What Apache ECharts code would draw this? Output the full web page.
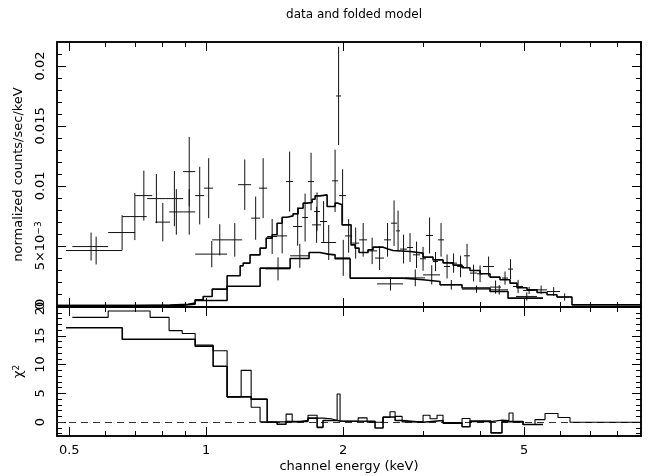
<!DOCTYPE html>
<html><head><meta charset="utf-8">
<script src="https://cdn.jsdelivr.net/npm/echarts@6/dist/echarts.min.js"></script>
<style>html,body{margin:0;padding:0;background:#fff}#c{width:652px;height:476px}</style>
</head><body><div id="c"></div>
<script>
// ---- axis ticks ----
const X_MIN = 0.47, X_MAX = 9.04;
const xTickMajor = [0.5, 1, 2, 5];
const xTickMinor = [0.6, 0.7, 0.8, 0.9, 3, 4, 6, 7, 8, 9];
const yTopMajor = [0, 0.005, 0.01, 0.015, 0.02];
const yTopMinor = [0.001,0.002,0.003,0.004,0.006,0.007,0.008,0.009,0.011,0.012,0.013,0.014,0.016,0.017,0.018,0.019,0.021];
const yBotMajor = [0, 5, 10, 15, 20];
const yBotMinor = [-2,-1,1,2,3,4,6,7,8,9,11,12,13,14,16,17,18,19];

// ---- data points: [E_lo, E_hi, rate, error] ----
const data1 = [
 [0.508,0.609,0.00494,0.00117],[0.609,0.698,0.00611,0.00145],[0.698,0.761,0.00919,0.00208],
 [0.773,0.833,0.00698,0.0016],[0.830,0.890,0.00783,0.0019],[0.890,0.946,0.01119,0.0029],
 [0.946,0.990,0.00919,0.0024],[0.990,1.036,0.00981,0.0025],[1.031,1.112,0.0055,0.0013],
 [1.112,1.200,0.0055,0.0014],[1.176,1.256,0.0101,0.0021],[1.256,1.314,0.00731,0.0018],
 [1.307,1.362,0.00981,0.0025],[1.362,1.432,0.00578,0.00146],[1.432,1.507,0.00583,0.00146],
 [1.499,1.553,0.01036,0.0025],[1.553,1.626,0.00661,0.0016],[1.626,1.675,0.00736,0.002],
 [1.675,1.727,0.01036,0.0024],[1.727,1.780,0.00786,0.0016],[1.780,1.845,0.00703,0.0017],
 [1.892,1.950,0.01042,0.0026],[1.931,1.980,0.0175,0.0041],[1.960,2.031,0.00919,0.0022],
 [2.021,2.094,0.00583,0.0014],[2.094,2.170,0.00523,0.0013],[2.170,2.259,0.0055,0.0014],
 [2.259,2.376,0.00458,0.0011],[2.461,2.550,0.0055,0.0014],[2.550,2.629,0.00689,0.0019],
 [2.616,2.669,0.00625,0.0017],[2.669,2.765,0.00473,0.0012],[2.765,2.850,0.00486,0.0012],
 [2.850,2.953,0.00425,0.0011],[2.953,3.045,0.00392,0.001],[3.045,3.154,0.00586,0.0015],
 [3.154,3.235,0.00369,0.0008],[3.235,3.335,0.0055,0.0014],[3.335,3.438,0.00328,0.001],
 [3.438,3.562,0.00356,0.0008],[3.562,3.690,0.00328,0.0009],[3.690,3.804,0.00417,0.001],
 [3.804,3.942,0.00273,0.0007],[3.942,4.063,0.00267,0.0007],[4.063,4.295,0.00328,0.00083],
 [4.472,4.611,0.00231,0.00055],[4.611,4.729,0.00306,0.00083],[4.729,4.975,0.00161,0.00055],
 [4.975,5.286,0.00128,0.0003],[5.286,5.618,0.00133,0.00036],[5.618,6.000,0.00119,0.00036],
 [5.908,6.374,0.00073,0.0003]
];
const data2 = [
 [0.492,0.654,0.00461,0.00116],[0.654,0.740,0.00744,0.00196],[0.742,0.813,0.00894,0.00205],
 [0.813,0.890,0.00894,0.0023],[0.890,0.946,0.00783,0.0019],[0.946,1.112,0.00431,0.0011],
 [1.348,1.530,0.00308,0.00096],[1.530,1.684,0.00417,0.001],[1.710,1.789,0.00675,0.0015],
 [1.789,1.931,0.00528,0.00146],[1.931,2.073,0.004,0.0015],[2.352,2.461,0.00398,0.001],
 [2.376,2.710,0.00183,0.00055],[2.737,3.029,0.00233,0.0007],[2.999,3.268,0.00258,0.0008],
 [3.268,3.653,0.00175,0.0004],[3.653,4.209,0.00139,0.0003],[4.209,4.450,0.00156,0.00055],
 [4.209,4.611,0.00133,0.0004],[4.80,5.34,0.00078,0.00035]
];

// ---- folded models (bin edges in keV, values per bin) ----
const model1Edges = [0.47,0.698,0.833,0.913,0.946,0.985,1.031,1.112,1.188,1.206,1.249,1.314,1.355,1.397,1.432,1.469,1.507,1.553,1.593,1.634,1.667,1.710,1.736,1.780,1.845,1.921,1.950,1.990,2.083,2.126,2.169,2.270,2.328,2.449,2.512,2.576,2.807,2.999,3.154,3.318,3.491,3.653,3.804,4.002,4.209,4.427,4.658,4.826,5.077,5.340,5.618,5.908,6.374,9.04];
const model1Vals = [0.000025,0.00007,0.000125,0.000225,0.0005,0.00078,0.00139,0.0025,0.00333,0.00356,0.00425,0.00481,0.00564,0.00592,0.00689,0.00739,0.0075,0.00767,0.00814,0.00856,0.00861,0.00889,0.00917,0.00925,0.00828,0.00856,0.00842,0.00675,0.00508,0.00481,0.00444,0.00467,0.00489,0.00473,0.00461,0.00453,0.00439,0.00406,0.00383,0.00358,0.00339,0.00317,0.00294,0.00267,0.00239,0.00217,0.00189,0.0015,0.00133,0.00111,0.00092,0.00073,0.00008];
const model2Edges = [0.47,0.698,0.890,0.946,1.112,1.314,1.530,1.684,1.780,1.854,1.921,2.073,2.710,2.999,3.268,3.653,4.209,4.611,5.505];
const model2Vals = [0.00002,0.00005,0.00014,0.00044,0.00163,0.00314,0.00394,0.00444,0.00431,0.00425,0.00392,0.00231,0.00217,0.00203,0.00175,0.00148,0.00119,0.00064];

// ---- chi^2 contributions ----
const chi1Edges = [0.508,0.609,0.753,0.829,0.886,0.946,1.036,1.112,1.194,1.256,1.314,1.432,1.499,1.546,1.675,1.754,1.807,1.883,1.941,1.970,2.159,2.259,2.449,2.537,2.603,2.697,2.999,3.107,3.219,3.318,3.653,3.804,4.230,4.472,4.634,4.729,4.975,5.286,5.561,5.938,6.310,9.0];
const chi1Vals = [18.2,19.3,18.2,15.9,15.4,13.4,12.4,4.4,9.0,2.6,0.05,0.05,1.4,0.1,1.2,0.7,0.6,0.3,4.9,0.15,0.75,0.0,0.8,1.8,1.0,0.05,1.2,0.6,1.2,-0.2,0.65,0.1,0.35,0.3,1.6,0.05,-0.4,0.45,1.5,0.8,0.0];
const chi2Edges = [0.492,0.654,0.946,1.036,1.112,1.256,1.362,1.432,1.499,1.610,1.675,1.754,1.807,1.941,1.970,2.352,2.449,2.603,2.697,2.999,3.318,3.653,3.804,4.230,4.472,4.975,5.505];
const chi2Vals = [16.4,14.4,13.2,9.7,4.4,4.0,0.0,-0.35,0.1,0.3,0.7,-0.9,0.3,0.2,0.15,-1.0,0.9,0.3,0.0,0.3,-0.1,-0.8,0.2,-1.85,0.1,-0.4];

// ---- build ----
const L = Math.log10;
const FONT = 'DejaVu Sans';
const TXT = {color:'#000', fontFamily:FONT, fontSize:13};

function stepData(edges, vals){
  const out = [];
  for (let i = 0; i < vals.length; i++) out.push([L(edges[i]), vals[i]]);
  out.push([L(edges[edges.length-1]), vals[vals.length-1]]);
  return out;
}
function crossData(arr){
  return arr.map(d => [L(d[0]), L(d[1]), L((d[0]+d[1])/2), d[2], d[3]]);
}
function fmtE(v){ return String(+Math.pow(10, v).toPrecision(3)); }

function mkX(grid, pos, ticks, len, label, name){
  return {
    type:'value', gridIndex:grid, position:pos, min:L(X_MIN), max:L(X_MAX),
    axisLine:{show:true, onZero:false, lineStyle:{color:'#000', width:1.5}},
    axisTick:{show:true, inside:true, length:len, customValues:ticks.map(L), lineStyle:{color:'#000', width:1}},
    axisLabel:Object.assign({show:!!label, customValues:ticks.map(L), formatter:fmtE, margin:8}, TXT),
    splitLine:{show:false},
    name:name||'', nameLocation:'middle', nameGap:24, nameTextStyle:TXT
  };
}
function mkY(grid, pos, min, max, ticks, len, label, name, fmt, gap){
  return {
    type:'value', gridIndex:grid, position:pos, min:min, max:max,
    axisLine:{show:true, onZero:false, lineStyle:{color:'#000', width:1.5}},
    axisTick:{show:true, inside:true, length:len, customValues:ticks, lineStyle:{color:'#000', width:1}},
    axisLabel:Object.assign({show:!!label, customValues:ticks, rotate:90, margin:10, formatter:fmt,
      rich:{sup:{fontSize:9, fontFamily:FONT, color:'#000', verticalAlign:'top', lineHeight:9}}}, TXT),
    splitLine:{show:false},
    name:name||'', nameLocation:'middle', nameGap:gap||32, nameRotate:90,
    nameTextStyle:Object.assign({rich:{sup:{fontSize:9, fontFamily:FONT, color:'#000', verticalAlign:'top', lineHeight:9}}}, TXT)
  };
}
function fmtTop(v){
  if (Math.abs(v) < 1e-12) return '0';
  if (Math.abs(v - 0.005) < 1e-9) return '5×10{sup|−3}';
  return String(+v.toPrecision(3));
}
function fmtBot(v){ return String(Math.round(v)); }

const xAxes = [
  mkX(0,'bottom',xTickMajor,9,false), mkX(0,'bottom',xTickMinor,5,false),
  mkX(0,'top',xTickMajor,9,false), mkX(0,'top',xTickMinor,5,false),
  mkX(1,'bottom',xTickMajor,9,true,'channel energy (keV)'), mkX(1,'bottom',xTickMinor,5,false),
  mkX(1,'top',xTickMajor,9,false), mkX(1,'top',xTickMinor,5,false)
];
const Y0MIN = -0.0001, Y0MAX = 0.022, Y1MIN = -2.4, Y1MAX = 20;
const yAxes = [
  mkY(0,'left',Y0MIN,Y0MAX,yTopMajor,9,true,'normalized counts/sec/keV',fmtTop,32),
  mkY(0,'left',Y0MIN,Y0MAX,yTopMinor,5,false),
  mkY(0,'right',Y0MIN,Y0MAX,yTopMajor,9,false),
  mkY(0,'right',Y0MIN,Y0MAX,yTopMinor,5,false),
  mkY(1,'left',Y1MIN,Y1MAX,yBotMajor,9,true,'χ{sup|2}',fmtBot,32),
  mkY(1,'left',Y1MIN,Y1MAX,yBotMinor,5,false),
  mkY(1,'right',Y1MIN,Y1MAX,yBotMajor,9,false),
  mkY(1,'right',Y1MIN,Y1MAX,yBotMinor,5,false)
];

function renderCross(params, api){
  const xl = api.value(0), xh = api.value(1), xc = api.value(2), v = api.value(3), e = api.value(4);
  const a = api.coord([xl, v]), b = api.coord([xh, v]);
  const c = api.coord([xc, v - e]), d = api.coord([xc, v + e]);
  const st = {stroke:'#111', lineWidth:1};
  return {type:'group', children:[
    {type:'line', shape:{x1:a[0], y1:a[1], x2:b[0], y2:b[1]}, style:st},
    {type:'line', shape:{x1:c[0], y1:c[1], x2:d[0], y2:d[1]}, style:st}
  ]};
}
function crossSeries(arr){
  return {type:'custom', xAxisIndex:0, yAxisIndex:0, data:crossData(arr), renderItem:renderCross,
          encode:{x:[0,1], y:[3]}, silent:true, clip:true, z:3};
}
function stepSeries(edges, vals, xi, yi, w, extra){
  return Object.assign({type:'line', step:'end', xAxisIndex:xi, yAxisIndex:yi, data:stepData(edges, vals),
    symbol:'none', showSymbol:false, silent:true, clip:true, z:4,
    lineStyle:{color:'#000', width:w}}, extra||{});
}

const option = {
  animation:false,
  backgroundColor:'#fff',
  title:{text:'data and folded model', left:349, textAlign:'center', top:4,
         textStyle:{color:'#000', fontFamily:FONT, fontSize:12, fontWeight:'normal'}},
  grid:[
    {left:57, right:11, top:42, height:265},
    {left:57, right:11, top:307, height:129}
  ],
  xAxis:xAxes,
  yAxis:yAxes,
  series:[
    crossSeries(data1),
    crossSeries(data2),
    stepSeries(model1Edges, model1Vals, 0, 0, 1.6),
    stepSeries(model2Edges, model2Vals, 0, 0, 1.6),
    stepSeries(chi1Edges, chi1Vals, 4, 4, 1.1, {
      markLine:{silent:true, symbol:['none','none'], label:{show:false},
        lineStyle:{type:[7,5], color:'#333', width:1}, data:[{yAxis:0}], z:1}
    }),
    stepSeries(chi2Edges, chi2Vals, 4, 4, 1.6)
  ]
};
const chart = echarts.init(document.getElementById('c'), null, {renderer:'canvas'});
chart.setOption(option);
</script>
</body></html>
